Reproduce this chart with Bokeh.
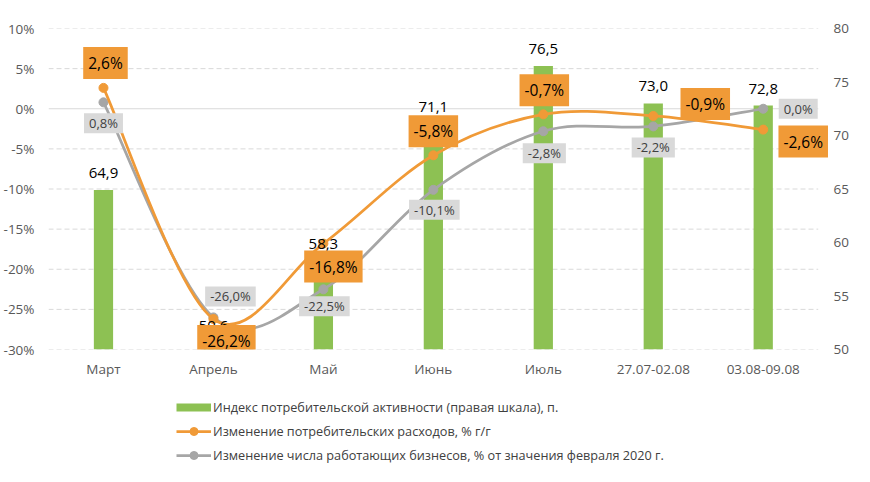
import numpy as np
from bokeh.plotting import figure
from bokeh.layouts import column
from bokeh.models import (Range1d, LinearAxis, FixedTicker, PrintfTickFormatter,
                          Label, Legend, LegendItem, ColumnDataSource)
from bokeh.embed import file_html
from bokeh.resources import INLINE

# ---------------- data ----------------
categories = ["Март", "Апрель", "Май", "Июнь", "Июль", "27.07-02.08", "03.08-09.08"]
activity_index = [64.9, 50.6, 58.3, 71.1, 76.5, 73.0, 72.8]
spending_change = [2.6, -26.2, -16.8, -5.8, -0.7, -0.9, -2.6]
business_change = [0.8, -26.0, -22.5, -10.1, -2.8, -2.2, 0.0]
left_ticks = [-30, -25, -20, -15, -10, -5, 0, 5, 10]
right_ticks = [50, 55, 60, 65, 70, 75, 80]
series_names = [
    "Индекс потребительской активности (правая шкала), п.",
    "Изменение потребительских расходов, % г/г",
    "Изменение числа работающих бизнесов, % от значения февраля 2020 г.",
]

# ---------------- styles ----------------
GREEN = "#8dc153"
ORANGE = "#f09a37"
GRAY = "#a6a6a6"
GRAY_BOX = "#d9d9d9"
FONT = "Open Sans"
TICK_SIZE = "13.5px"
# label offsets in screen px (dx, dy up)
spend_off = [(2, 25), (13, -22), (10, -23), (0, 24), (1, 24), (52, 12), (40, -12)]
biz_off = [(0, -21), (17, 21), (1, -17), (1, -20), (1, -22), (0, -21), (35, 0)]


def fmt(v):
    return f"{v:.1f}".replace(".", ",")


n = len(categories)
xs = list(range(n))

p = figure(width=870, height=380, x_range=Range1d(-0.5, n - 0.5 + 0.13),
           y_range=Range1d(left_ticks[0], left_ticks[-1]),
           output_backend="svg", toolbar_location=None,
           min_border_left=48, min_border_right=38, min_border_top=28, min_border_bottom=30)
p.outline_line_color = None
p.background_fill_color = "white"
p.border_fill_color = "white"

p.extra_y_ranges = {"right": Range1d(right_ticks[0], right_ticks[-1])}

left_axis = p.left[0]
left_axis.ticker = FixedTicker(ticks=left_ticks)
left_axis.formatter = PrintfTickFormatter(format="%d%%")
left_axis.major_label_standoff = 14

right_axis = LinearAxis(y_range_name="right", ticker=FixedTicker(ticks=right_ticks))
right_axis.major_label_standoff = 1
p.add_layout(right_axis, "right")

bottom_axis = p.below[0]
bottom_axis.ticker = FixedTicker(ticks=xs)
bottom_axis.major_label_overrides = {i: c for i, c in zip(xs, categories)}
bottom_axis.major_label_standoff = 10

for ax in (left_axis, right_axis, bottom_axis):
    ax.axis_line_color = None
    ax.major_tick_line_color = None
    ax.minor_tick_line_color = None
    ax.major_tick_out = 0
    ax.major_tick_in = 0
    ax.minor_tick_out = 0
    ax.minor_tick_in = 0
    ax.major_label_text_font = FONT
    ax.major_label_text_font_size = TICK_SIZE
    ax.major_label_text_color = "#595959"

p.xgrid.visible = False
p.ygrid.visible = False

# horizontal gridlines across the category area only
grid_vals = [t for t in left_ticks if t != 0]
p.segment(x0=[-0.5] * len(grid_vals), x1=[n - 0.5] * len(grid_vals), y0=grid_vals, y1=grid_vals,
          line_color=GRAY_BOX, line_width=1, line_dash="5 3")
p.segment(x0=[-0.5], x1=[n - 0.5], y0=[0], y1=[0], line_color=GRAY_BOX, line_width=1.2)

# bars (right scale)
p.vbar(x=xs, top=activity_index, bottom=right_ticks[0], width=0.175,
       y_range_name="right", fill_color=GREEN, line_color=None)


def smooth(ys):
    x = np.arange(len(ys), dtype=float)
    y = np.array(ys, dtype=float)
    xp = np.concatenate([[x[0]], x, [x[-1]]])
    yp = np.concatenate([[y[0]], y, [y[-1]]])
    tx = (xp[2:] - xp[:-2]) / 6.0
    ty = (yp[2:] - yp[:-2]) / 6.0
    return dict(x0=x[:-1], y0=y[:-1], x1=x[1:], y1=y[1:],
                cx0=x[:-1] + tx[:-1], cy0=y[:-1] + ty[:-1],
                cx1=x[1:] - tx[1:], cy1=y[1:] - ty[1:])


p.bezier(source=ColumnDataSource(smooth(business_change)),
         x0="x0", y0="y0", x1="x1", y1="y1", cx0="cx0", cy0="cy0", cx1="cx1", cy1="cy1",
         line_color=GRAY, line_width=2.75)
p.scatter(xs, business_change, size=9, fill_color=GRAY, line_color=GRAY)
p.bezier(source=ColumnDataSource(smooth(spending_change)),
         x0="x0", y0="y0", x1="x1", y1="y1", cx0="cx0", cy0="cy0", cx1="cx1", cy1="cy1",
         line_color=ORANGE, line_width=2.75)
p.scatter(xs, spending_change, size=9, fill_color=ORANGE, line_color=ORANGE)

# bar value labels (drawn above the lines, below the other data labels)
for i, v in enumerate(activity_index):
    p.add_layout(Label(x=xs[i], y=v, y_range_name="right", y_offset=17, text=fmt(v),
                       text_align="center", text_baseline="middle",
                       text_font=FONT, text_font_size="15px", text_color="#000000"))

# data labels
for i, v in enumerate(business_change):
    dx, dy = biz_off[i]
    p.add_layout(Label(x=xs[i], y=v, x_offset=dx, y_offset=dy, text=fmt(v) + "%",
                       text_align="center", text_baseline="middle",
                       text_font=FONT, text_font_size="13px", text_color="#404040",
                       background_fill_color=GRAY_BOX, padding=dict(x=5, y=1)))
for i, v in enumerate(spending_change):
    dx, dy = spend_off[i]
    p.add_layout(Label(x=xs[i], y=v, x_offset=dx, y_offset=dy, text=fmt(v) + "%",
                       text_align="center", text_baseline="middle",
                       text_font=FONT, text_font_size="15.5px", text_color="#000000",
                       background_fill_color=ORANGE, padding=dict(x=5, y=5)))

# ---------------- legend panel ----------------
lg = figure(width=870, height=102, x_range=Range1d(0, 1), y_range=Range1d(0, 1),
            x_axis_location=None, y_axis_location=None,
            output_backend="svg", toolbar_location=None,
            min_border_left=0, min_border_right=0, min_border_top=0, min_border_bottom=0)
lg.grid.visible = False
lg.outline_line_color = None
off = [-5.0]  # keys sit outside the visible range; only their legend glyphs are seen
k_bar = lg.line(x=off, y=off, line_color=GREEN, line_width=8, line_cap="butt")
k_sp_l = lg.line(x=off, y=off, line_color=ORANGE, line_width=2.75)
k_sp_m = lg.scatter(x=off, y=off, size=9, fill_color=ORANGE, line_color=ORANGE)
k_bz_l = lg.line(x=off, y=off, line_color=GRAY, line_width=2.75)
k_bz_m = lg.scatter(x=off, y=off, size=9, fill_color=GRAY, line_color=GRAY)
legend = Legend(items=[
    LegendItem(label=series_names[0], renderers=[k_bar]),
    LegendItem(label=series_names[1], renderers=[k_sp_l, k_sp_m]),
    LegendItem(label=series_names[2], renderers=[k_bz_l, k_bz_m]),
], location=(128, 17), orientation="vertical",
    glyph_width=35, glyph_height=20, label_height=20, spacing=4, label_standoff=2,
    padding=0, margin=0, border_line_color=None, background_fill_alpha=0,
    label_text_font=FONT, label_text_font_size="12.7px", label_text_color="#404040")
lg.add_layout(legend)

layout = column(p, lg, spacing=0)
open("out.html", "w").write(file_html(layout, INLINE))
